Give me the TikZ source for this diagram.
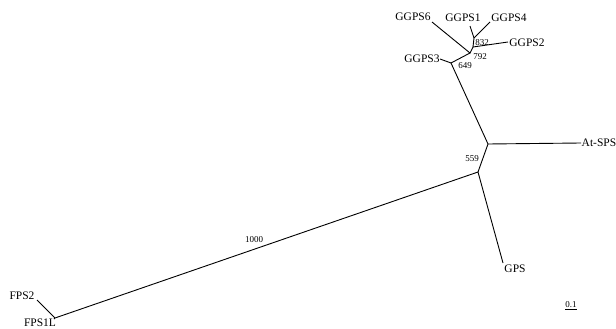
\documentclass[tikz,border=0pt]{standalone}
\usepackage{fontspec}
\setmainfont{Liberation Serif}
\tikzset{
	branch/.style={line width=0.9pt},
	leaf/.style={font=\fontsize{11.5}{12}\selectfont, inner sep=0pt},
	boot/.style={font=\fontsize{9}{10}\selectfont, inner sep=0pt}
}
\begin{document}
\begin{tikzpicture}[x=1pt,y=-1pt]
		\useasboundingbox (0,0) rectangle (616,329);
		% inner junctions
		\foreach \n/\x/\y in {%
			jfps/55/318, jgps/478/172, jsps/488/144,%
			jg3/451/63, jg6/470/53, jg2/473/47, jg14/474/38%
		}{
			\coordinate (\n) at (\x,\y);
		}
		% leaf tips and their labels
		\foreach \n/\x/\y/\lx/\ly/\t in {%
			fpstwo/37/300/22/296/FPS2, fpsone/54/319/40/323/FPS1L,%
			gps/503/263/515/269/GPS, atsps/581/143/599/143/At-SPS,%
			ggpsthree/440/59/422/59/GGPS3, ggpssix/432/22/413/17/GGPS6,%
			ggpsone/470/26/463/18/GGPS1, ggpsfour/490/22/509/18/GGPS4,%
			ggpstwo/508/42/527/43/GGPS2%
		}{
			\coordinate (\n) at (\x,\y);
			\node[leaf] (\n-l) at (\lx,\ly) {\t};
		}
		\draw[branch] (fpstwo) -- (jfps) -- (jgps) -- (gps);
		\draw[branch] (jfps) -- (fpsone);
		\draw[branch] (jgps) -- (jsps) -- (atsps);
		\draw[branch] (jsps) -- (jg3) -- (ggpsthree);
		\draw[branch] (jg3) -- (jg6) -- (ggpssix);
		\draw[branch] (jg6) -- (jg2) -- (ggpstwo);
		\draw[branch] (jg2) -- (jg14) -- (ggpsone);
		\draw[branch] (jg14) -- (ggpsfour);
		% bootstrap values
		\foreach \n/\x/\y/\v in {b1000/254/240/1000, b559/472/159/559, b649/465/66/649, b792/480/57/792, b832/482/43/832}{
			\node[boot] (\n) at (\x,\y) {\v};
		}
		% scale
		\node[boot] (scale) at (571,305) {0.1};
		\draw[line width=0.6pt] ([yshift=-1.2pt]scale.south west) -- ([yshift=-1.2pt]scale.south east);
	\end{tikzpicture}
\end{document}
